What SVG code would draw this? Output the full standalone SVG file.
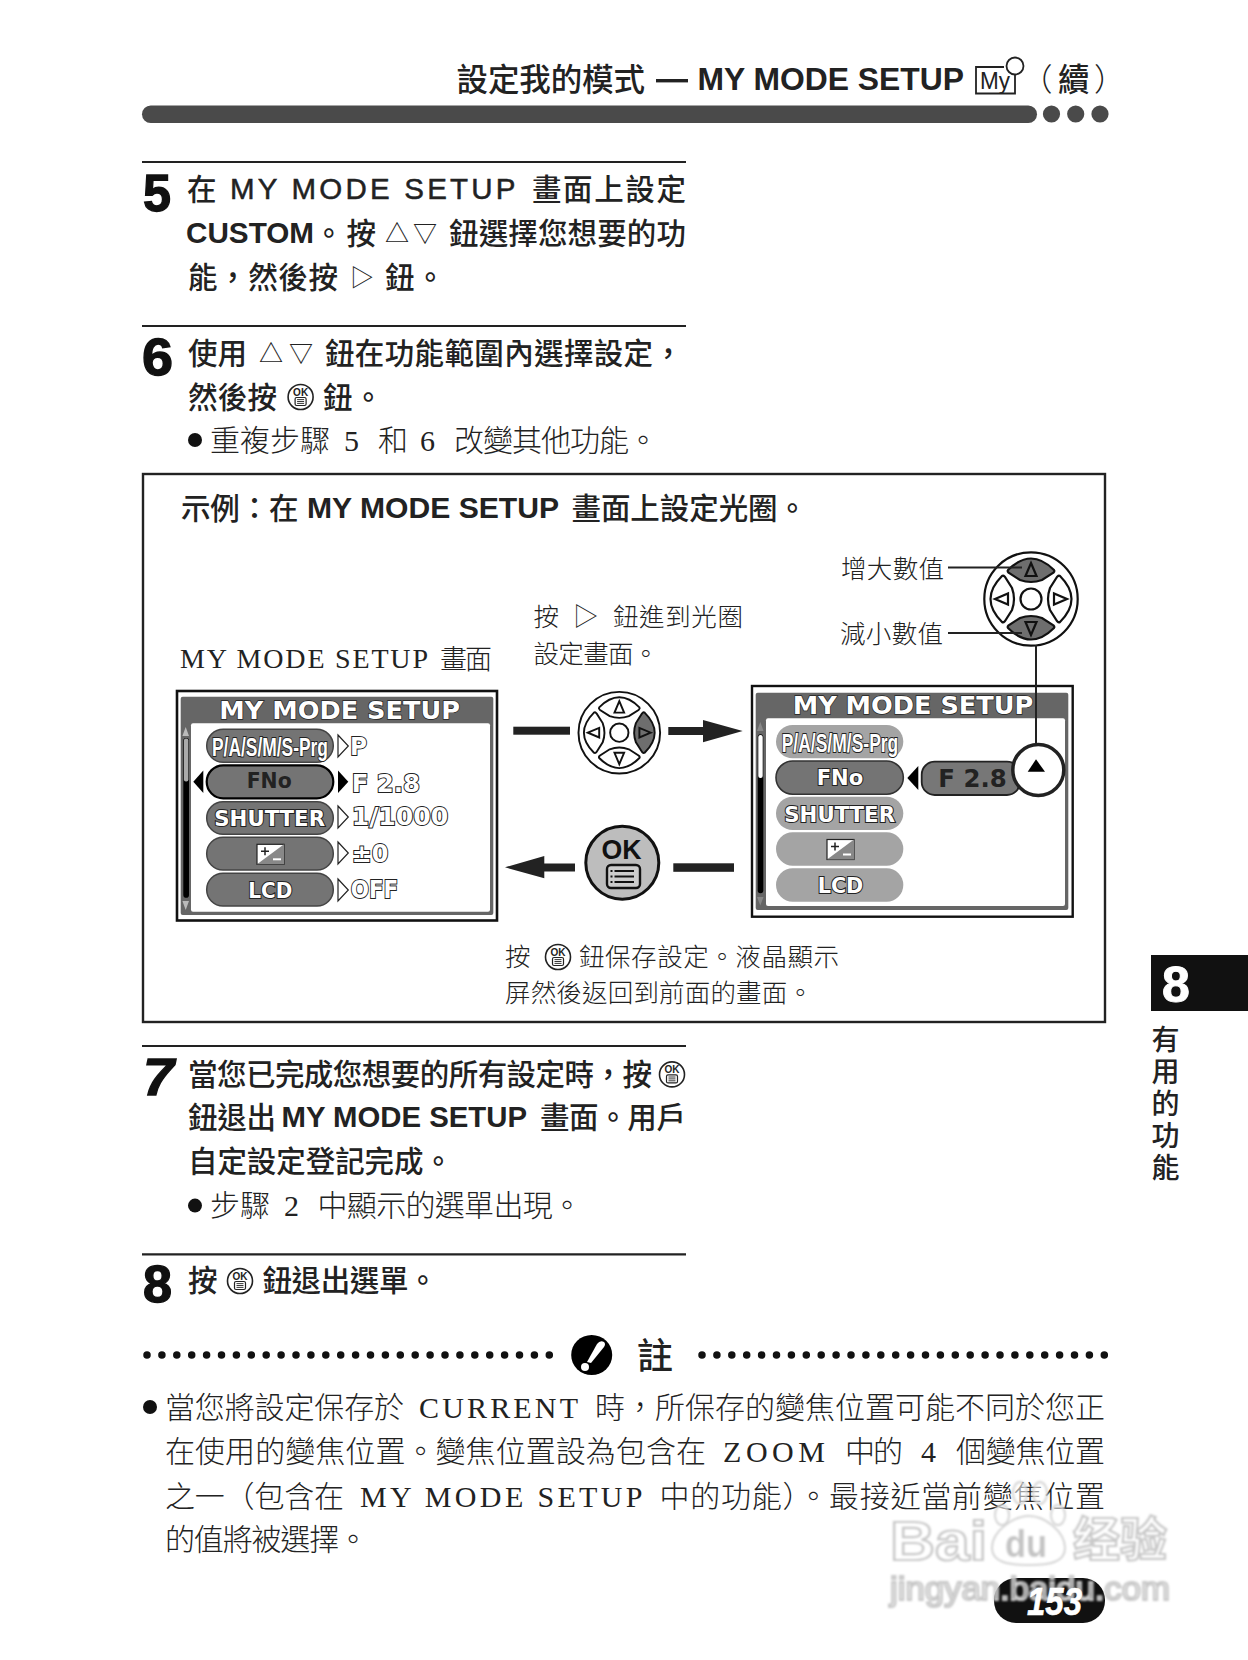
<svg xmlns="http://www.w3.org/2000/svg" width="1248" height="1660" viewBox="0 0 1248 1660">
<style>
text{font-family:"Liberation Sans","Noto Sans CJK TC",sans-serif;fill:#222}
.b{font-size:29.5px;font-weight:500}
.bl{font-size:29.5px;font-weight:700}
.g{font-size:24px;font-weight:400}
.r{font-family:"Liberation Serif","Noto Sans CJK TC",serif;font-size:30px;font-weight:300}
.m{font-family:"Liberation Serif","Noto Sans CJK TC",serif;font-size:25.5px;font-weight:300}
.num{font-size:51px;font-weight:700;fill:#111;stroke:#111;stroke-width:1.3}
.rule{stroke:#222;stroke-width:2.2}
.hd{font-size:31.5px;font-weight:500}
.hl{font-size:31.5px;font-weight:700}
.sc{font-family:"DejaVu Sans",sans-serif;font-size:25px;fill:#fff;stroke:#222;stroke-width:1.4;font-weight:700;paint-order:stroke}
.st{font-size:25px;fill:#fff;stroke:#222;stroke-width:2;font-weight:700;paint-order:stroke}
.sd{font-family:"DejaVu Sans",sans-serif;font-size:21px;fill:#fff;stroke:#222;stroke-width:2;font-weight:700;paint-order:stroke}
.pd{fill:#747474;stroke:#444;stroke-width:1.5}
.ph{fill:#747474;stroke:#000;stroke-width:2.2}
.pl{fill:#a4a4a4}
.val{font-family:"DejaVu Sans",sans-serif;fill:#fff;stroke:#222;stroke-width:2;paint-order:stroke;font-size:25px;font-weight:700}
.dk{font-family:"DejaVu Sans",sans-serif;fill:#222;font-weight:700;font-size:21px}
.dots{stroke:#111;stroke-width:7.5;stroke-linecap:round;stroke-dasharray:0 14.9;fill:none}
.dl{fill:#fff;stroke:#111;stroke-width:2.2}
.da{fill:#fff;stroke:#111;stroke-width:2.2}
.dg{fill:#6e6e6e;stroke:#111;stroke-width:2.2}
.wm{fill:#fff;stroke:#c8c8c8;stroke-width:2.2;font-weight:700;fill-opacity:.35}
</style>
<defs>
<path id="btn" d="M-23-29C-14-38-6-40.5 0-40.5C6-40.5 14-38 23-29C24-27.5 23-27 22-26L11-19Q0-15-11-19L-22-26C-23-27-24-27.5-23-29Z"/>
<path id="tri" d="M0-36L5.5-23H-5.5Z"/>
<g id="okS">
<circle r="12.5" fill="#fff" stroke="#222" stroke-width="1.6"/>
<text x="0" y="-1.5" text-anchor="middle" font-size="10" font-weight="700">OK</text>
<rect x="-5.5" y="0.5" width="11" height="8" rx="1.5" fill="none" stroke="#222" stroke-width="1.2"/>
<path d="M-3.5 2.6H3.5M-3.5 4.5H3.5M-3.5 6.4H3.5" stroke="#222" stroke-width=".9"/>
</g>
<g id="ev">
<rect width="27" height="20" fill="#fff" stroke="#222" stroke-width="1.2"/>
<path d="M27 0V20H0Z" fill="#888"/>
<path d="M4 7H12M8 3V11" stroke="#222" stroke-width="1.5" fill="none"/>
<path d="M16 15H24" stroke="#fff" stroke-width="2"/>
</g>
<filter id="blur" x="-5%" y="-5%" width="110%" height="110%"><feGaussianBlur stdDeviation="1.1"/></filter>
</defs>

<rect width="1248" height="1660" fill="#fff"/>

<g id="header">
<text class="hd" x="456.5" y="91" textLength="188.5">設定我的模式</text>
<rect x="656" y="79" width="32" height="3.4" fill="#222"/>
<text class="hl" x="697.5" y="90" textLength="266.5" lengthAdjust="spacingAndGlyphs">MY MODE SETUP</text>
<g fill="none" stroke="#222" stroke-width="1.8">
<path d="M1004 67H976V93.5H1015V71"/>
<circle cx="1015" cy="66" r="8.5" fill="#fff"/>
</g>
<text x="980" y="89" font-size="24" textLength="30" lengthAdjust="spacingAndGlyphs">My</text>
<text class="hd" x="1021" y="91" style="font-weight:300">（</text>
<text class="hd" x="1058" y="91" textLength="30">續</text>
<text class="hd" x="1094" y="91" style="font-weight:300">）</text>
<rect x="142" y="105.5" width="895" height="17.5" rx="8.7" fill="#4a4a4a"/>
<circle cx="1051.5" cy="114" r="8.6" fill="#4a4a4a"/>
<circle cx="1075.7" cy="114" r="8.6" fill="#4a4a4a"/>
<circle cx="1100" cy="114" r="8.6" fill="#4a4a4a"/>
</g>

<g id="step5">
<line class="rule" x1="142" y1="162" x2="686" y2="162"/>
<text class="num" x="143" y="211" textLength="28" lengthAdjust="spacingAndGlyphs">5</text>
<text class="b" x="187" y="200">在</text>
<text class="bl" x="230" y="199" textLength="285.5" style="font-weight:400;stroke:#222;stroke-width:.5">MY MODE SETUP</text>
<text class="b" x="532" y="200" textLength="154">畫面上設定</text>
<text class="bl" x="186" y="243" textLength="128" lengthAdjust="spacingAndGlyphs">CUSTOM</text>
<text class="b" x="314" y="244" textLength="62">。按</text>
<text class="g" x="385" y="242" textLength="52">△▽</text>
<text class="b" x="449" y="244" textLength="237">鈕選擇您想要的功</text>
<text class="b" x="188" y="288" textLength="150">能，然後按</text>
<text class="g" x="350" y="286">▷</text>
<text class="b" x="385" y="288" textLength="60">鈕。</text>
</g>

<g id="step6">
<line class="rule" x1="142" y1="326" x2="686" y2="326"/>
<text class="num" x="142" y="375" textLength="31" lengthAdjust="spacingAndGlyphs">6</text>
<text class="b" x="188" y="364" textLength="59">使用</text>
<text class="g" x="259" y="362" textLength="54">△▽</text>
<text class="b" x="325" y="364" textLength="358">鈕在功能範圍內選擇設定，</text>
<text class="b" x="188" y="408" textLength="89">然後按</text>
<use href="#okS" x="300.6" y="397"/>
<text class="b" x="323" y="408" textLength="60">鈕。</text>
<circle cx="195" cy="440" r="7" fill="#111"/>
<text class="r" x="210" y="451" textLength="120">重複步驟</text>
<text class="r" x="344" y="451">5</text>
<text class="r" x="378" y="451">和</text>
<text class="r" x="420" y="451">6</text>
<text class="r" x="454" y="451" textLength="204">改變其他功能。</text>
</g>

<g id="example-box">
<rect x="143" y="474" width="962" height="548" fill="#fff" stroke="#222" stroke-width="2.4"/>
<text class="b" x="181" y="519" textLength="117.5">示例：在</text>
<text class="bl" x="307" y="518" textLength="252" lengthAdjust="spacingAndGlyphs">MY MODE SETUP</text>
<text class="b" x="571.5" y="519" textLength="235.5">畫面上設定光圈。</text>
</g>

<g id="screen-label">
<text class="m" x="180" y="668" textLength="248" style="font-size:28px">MY MODE SETUP</text>
<text class="m" x="440" y="669" textLength="52" style="font-size:27px">畫面</text>
</g>

<g id="screen-left">
<rect x="177" y="691" width="320" height="229.5" fill="#fff" stroke="#111" stroke-width="2.6"/>
<rect x="180.7" y="696.7" width="312.6" height="218.3" rx="2" fill="#666"/>
<rect x="191" y="723.3" width="299" height="188.4" rx="2" fill="#fff"/>
<text class="sc" x="219.3" y="719.3" textLength="240.7" lengthAdjust="spacingAndGlyphs">MY MODE SETUP</text>
<path d="M185.7 727L189 736H182.4ZM185.7 910L189 901H182.4Z" fill="#bbb"/>
<rect x="183.3" y="738" width="5.7" height="159.7" rx="2.8" fill="#000"/>
<rect x="183.9" y="738.5" width="4.5" height="43" rx="2" fill="#aaa"/>
<rect class="pd" x="206.7" y="729.3" width="126.6" height="33" rx="16.5"/>
<rect class="ph" x="206.7" y="765.3" width="126.6" height="33" rx="16.5"/>
<rect class="pd" x="206.7" y="801.7" width="126.6" height="32.6" rx="16.3"/>
<rect class="pd" x="206.7" y="837.3" width="126.6" height="32.7" rx="16.3"/>
<rect class="pd" x="206.7" y="873.3" width="126.6" height="32.7" rx="16.3"/>
<text class="st" x="212" y="755.5" textLength="116" lengthAdjust="spacingAndGlyphs">P/A/S/M/S-Prg</text>
<text class="dk" x="246.7" y="788.3" textLength="45" lengthAdjust="spacingAndGlyphs">FNo</text>
<text class="sd" x="214.3" y="826" textLength="110.7" lengthAdjust="spacingAndGlyphs">SHUTTER</text>
<use href="#ev" x="257" y="844.3"/>
<text class="sd" x="248.3" y="897.5" textLength="44" lengthAdjust="spacingAndGlyphs">LCD</text>
<g fill="#fff" stroke="#222" stroke-width="1.2">
<path d="M338 735L348.3 746L338 757Z"/>
<path d="M338 806L348.3 817L338 828Z"/>
<path d="M338 842L348.3 853L338 864Z"/>
<path d="M338 879L348.3 890L338 901Z"/>
</g>
<path d="M338 770.5L348.3 781.7L338 793Z" fill="#000"/>
<path d="M203.3 770.5L193.3 781.7L203.3 793Z" fill="#000"/>
<text class="val" x="350" y="755" textLength="17" lengthAdjust="spacingAndGlyphs">P</text>
<text class="val" x="351.7" y="791.5" textLength="68.3" lengthAdjust="spacingAndGlyphs">F 2.8</text>
<text class="val" x="351.7" y="825" textLength="96.6" lengthAdjust="spacingAndGlyphs">1/1000</text>
<text class="val" x="351.7" y="861.5" textLength="36.6" lengthAdjust="spacingAndGlyphs">±0</text>
<text class="val" x="350.7" y="898" textLength="47.6" lengthAdjust="spacingAndGlyphs">OFF</text>
</g>

<g id="dial-middle" transform="translate(619.3 732.7) scale(.874)">
<circle class="dl" r="46.7"/>
<circle class="dl" r="10.5"/>
<use href="#btn" class="da"/><use href="#tri" class="da"/>
<g transform="rotate(180)"><use href="#btn" class="da"/><use href="#tri" class="da"/></g>
<g transform="rotate(-90)"><use href="#btn" class="da"/><use href="#tri" class="da"/></g>
<g transform="rotate(90)"><use href="#btn" class="dg"/><use href="#tri" class="dg"/></g>
</g>

<g id="note-right-press">
<text class="m" x="533.5" y="626">按</text>
<text class="m" x="573" y="625">▷</text>
<text class="m" x="613" y="626" textLength="130">鈕進到光圈</text>
<text class="m" x="533.5" y="663" textLength="125">設定畫面。</text>
</g>

<g id="dial-top" transform="translate(1031 599)">
<circle class="dl" r="46.7"/>
<circle class="dl" r="10.5"/>
<use href="#btn" class="dg"/><use href="#tri" class="dg"/>
<g transform="rotate(180)"><use href="#btn" class="dg"/><use href="#tri" class="dg"/></g>
<g transform="rotate(-90)"><use href="#btn" class="da"/><use href="#tri" class="da"/></g>
<g transform="rotate(90)"><use href="#btn" class="da"/><use href="#tri" class="da"/></g>
</g>
<g id="label-increase"><text class="m" x="841" y="578" textLength="103">增大數值</text></g>
<g id="label-decrease"><text class="m" x="840" y="643" textLength="103">減小數值</text></g>

<g id="screen-right">
<rect x="752" y="686" width="320.7" height="230.7" fill="#fff" stroke="#111" stroke-width="2.4"/>
<rect x="755.7" y="692.7" width="312.6" height="217.3" rx="2" fill="#666"/>
<rect x="766" y="718.3" width="299" height="187.7" rx="2" fill="#fff"/>
<text class="sc" x="792.7" y="714" textLength="240.6" lengthAdjust="spacingAndGlyphs">MY MODE SETUP</text>
<path d="M760.3 722L763.5 731H757ZM760.3 905.5L763.5 897H757Z" fill="#888"/>
<rect x="757.7" y="734.3" width="5.6" height="159" rx="2.8" fill="#000"/>
<rect x="758.3" y="735" width="4.4" height="43" rx="2" fill="#fff"/>
<rect class="pl" x="776" y="725" width="127.3" height="33.3" rx="16.6"/>
<rect class="ph" x="776" y="761" width="127.3" height="33.3" rx="16.6" style="stroke:#333;stroke-width:1.6"/>
<rect class="pl" x="776" y="796.7" width="127.3" height="33.3" rx="16.6"/>
<rect class="pl" x="776" y="832.3" width="127.3" height="33.4" rx="16.6"/>
<rect class="pl" x="776" y="868.3" width="127.3" height="33.4" rx="16.6"/>
<text class="st" x="781.7" y="751.5" textLength="116.6" lengthAdjust="spacingAndGlyphs">P/A/S/M/S-Prg</text>
<text class="sd" x="816.7" y="785" textLength="46.6" lengthAdjust="spacingAndGlyphs">FNo</text>
<text class="sd" x="784.3" y="821.5" textLength="110.7" lengthAdjust="spacingAndGlyphs">SHUTTER</text>
<use href="#ev" x="827" y="839.5"/>
<text class="sd" x="817.7" y="892.5" textLength="45.6" lengthAdjust="spacingAndGlyphs">LCD</text>
<path d="M918.3 766V790L907.3 778Z" fill="#000"/>
<rect x="921.7" y="761.7" width="98.3" height="33.3" rx="13" fill="#777" stroke="#222" stroke-width="1.8"/>
<text class="dk" x="938.3" y="786.7" textLength="68.4" lengthAdjust="spacingAndGlyphs" style="font-size:24px">F 2.8</text>
</g>

<g id="ok-button">
<circle cx="622.3" cy="862.7" r="36.5" fill="#bdbdbd" stroke="#111" stroke-width="3"/>
<text x="601.5" y="858.5" font-size="28" font-weight="700" textLength="40" lengthAdjust="spacingAndGlyphs" style="fill:#111">OK</text>
<rect x="607" y="865" width="33" height="23" rx="4" fill="#ccc" stroke="#111" stroke-width="2.4"/>
<path d="M614.5 871H634M614.5 876.5H634M614.5 882H634M610.5 871H612.5M610.5 876.5H612.5M610.5 882H612.5" stroke="#111" stroke-width="2.2" fill="none"/>
</g>

<g id="caption">
<text class="m" x="505" y="966">按</text>
<use href="#okS" x="558" y="957"/>
<text class="m" x="579" y="966" textLength="260">鈕保存設定。液晶顯示</text>
<text class="m" x="505" y="1002" textLength="308">屏然後返回到前面的畫面。</text>
</g>

<g id="connectors" fill="#222">
<rect x="513.3" y="726.7" width="56.7" height="8"/>
<path d="M668.3 727H703V720L742.7 731L703 742.3V735H668.3Z"/>
<path d="M575 863.5H544.3V856L505 867.3L544.3 878.3V871.5H575Z"/>
<rect x="673.3" y="863.3" width="60.7" height="8.5"/>
<path d="M948 567.5H1022M948 633H1022M1036 645V743.3" fill="none" stroke="#222" stroke-width="2"/>
</g>

<g id="highlight-circle">
<circle cx="1038.3" cy="770" r="25.5" fill="#fff" stroke="#222" stroke-width="3.5"/>
<path d="M1036 759.3L1045 771.7H1027.7Z" fill="#000"/>
</g>

<g id="step7">
<line class="rule" x1="142" y1="1046" x2="686" y2="1046"/>
<text class="num" x="143" y="1095" font-style="italic" textLength="31" lengthAdjust="spacingAndGlyphs">7</text>
<text class="b" x="188" y="1085" textLength="464">當您已完成您想要的所有設定時，按</text>
<use href="#okS" x="672" y="1074.4"/>
<text class="b" x="188" y="1128" textLength="88">鈕退出</text>
<text class="bl" x="281.5" y="1127" textLength="245.5" lengthAdjust="spacingAndGlyphs">MY MODE SETUP</text>
<text class="b" x="540" y="1128" textLength="146">畫面。用戶</text>
<text class="b" x="188" y="1172" textLength="265">自定設定登記完成。</text>
<circle cx="195" cy="1205.6" r="7" fill="#111"/>
<text class="r" x="210" y="1216" textLength="60">步驟</text>
<text class="r" x="284" y="1216">2</text>
<text class="r" x="317.5" y="1216" textLength="264.5">中顯示的選單出現。</text>
</g>

<g id="step8">
<line class="rule" x1="142" y1="1254.4" x2="686" y2="1254.4"/>
<text class="num" x="143" y="1302" textLength="29" lengthAdjust="spacingAndGlyphs">8</text>
<text class="b" x="188" y="1291">按</text>
<use href="#okS" x="240" y="1281"/>
<text class="b" x="262.5" y="1291" textLength="175">鈕退出選單。</text>
</g>

<g id="note">
<line class="dots" x1="147" y1="1355" x2="552" y2="1355"/>
<line class="dots" x1="702" y1="1355" x2="1106" y2="1355"/>
<ellipse cx="591.7" cy="1355" rx="20.5" ry="20" fill="#000"/>
<path d="M597 1344Q600 1340 604 1342Q606 1344 604 1347L591 1363L587 1362Z" fill="#fff"/>
<circle cx="585" cy="1367" r="4" fill="#fff"/>
<text x="637" y="1369" font-size="36" style="font-weight:500">註</text>
<circle cx="150" cy="1407" r="7" fill="#111"/>
<text class="r" x="165" y="1418" textLength="239">當您將設定保存於</text>
<text class="r" x="419" y="1418" textLength="159">CURRENT</text>
<text class="r" x="595" y="1418" textLength="510">時，所保存的變焦位置可能不同於您正</text>
<text class="r" x="165" y="1462" textLength="541">在使用的變焦位置。變焦位置設為包含在</text>
<text class="r" x="723" y="1462" textLength="102">ZOOM</text>
<text class="r" x="845" y="1462" textLength="58">中的</text>
<text class="r" x="921" y="1462">4</text>
<text class="r" x="956" y="1462" textLength="149">個變焦位置</text>
<text class="r" x="165" y="1507" textLength="179">之一（包含在</text>
<text class="r" x="360" y="1507" textLength="282.5">MY MODE SETUP</text>
<text class="r" x="659.5" y="1507" textLength="445.5">中的功能）。最接近當前變焦位置</text>
<text class="r" x="165" y="1550" textLength="203">的值將被選擇。</text>
</g>

<g id="side-tab">
<rect x="1151" y="955" width="97" height="56" fill="#111"/>
<text x="1176" y="1002" text-anchor="middle" font-size="50" font-weight="700" style="fill:#fff;stroke:#fff;stroke-width:1">8</text>
<g font-size="28" text-anchor="middle" style="font-weight:500">
<text x="1165.5" y="1050">有</text>
<text x="1165.5" y="1082">用</text>
<text x="1165.5" y="1114">的</text>
<text x="1165.5" y="1146">功</text>
<text x="1165.5" y="1178">能</text>
</g>
</g>

<g id="page-pill">
<rect x="994" y="1578" width="111" height="45" rx="22" fill="#111"/>
</g>

<g id="watermark" filter="url(#blur)">
<text class="wm" x="890" y="1560" font-size="56" textLength="97" lengthAdjust="spacingAndGlyphs">Bai</text>
<g fill="#fff" fill-opacity=".55" stroke="#d4d4d4" stroke-width="2">
<path d="M992 1548C992 1530 1015 1516 1029 1516C1045 1516 1065 1532 1065 1548C1065 1562 1050 1565 1029 1565C1008 1565 992 1562 992 1548Z"/>
<ellipse cx="1002" cy="1515" rx="7" ry="10"/>
<ellipse cx="1020" cy="1493" rx="7" ry="11"/>
<ellipse cx="1040" cy="1493" rx="7" ry="11"/>
<ellipse cx="1058" cy="1515" rx="7" ry="10"/>
</g>
<text x="1005" y="1557" font-size="38" font-weight="700" textLength="42" lengthAdjust="spacingAndGlyphs" style="fill:#c4c4c4">du</text>
<text class="wm" x="1073" y="1556" font-size="47" textLength="94">经验</text>
<text class="wm" x="890" y="1600" font-size="34" textLength="280" lengthAdjust="spacingAndGlyphs" style="font-weight:400">jingyan.baidu.com</text>
</g>

<g id="page-number">
<text x="1027" y="1615" font-size="39" font-weight="700" font-style="italic" textLength="55" lengthAdjust="spacingAndGlyphs" style="fill:#fff;stroke:#fff;stroke-width:.6">153</text>
</g>
</svg>
